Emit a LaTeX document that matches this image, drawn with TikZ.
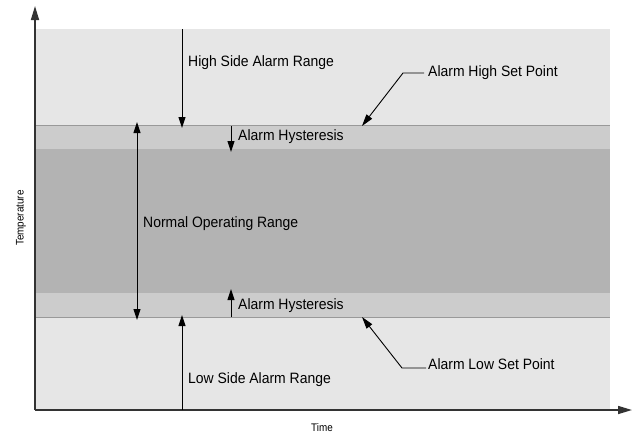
\documentclass[tikz,border=0pt]{standalone}
\usepackage{fontspec}
\setmainfont[FakeStretch=0.93]{Liberation Sans}
\newfontfamily\axfont[FakeStretch=0.9]{Liberation Sans}
\usetikzlibrary{arrows.meta}
\definecolor{bandlight}{HTML}{E6E6E6}
\definecolor{bandmid}{HTML}{CCCCCC}
\definecolor{banddark}{HTML}{B3B3B3}
\definecolor{setline}{HTML}{999999}
\definecolor{axiscol}{HTML}{333333}
\tikzset{
  lbl/.style={anchor=west, inner sep=0pt, font=\fontsize{15}{17}\selectfont},
  axlbl/.style={inner sep=0pt, font=\axfont\fontsize{11}{13}\selectfont},
  dimarrow/.style={line width=1pt, -{Triangle[length=11pt,width=7pt]}},
  dimboth/.style={line width=1pt, {Triangle[length=11pt,width=7pt]}-{Triangle[length=11pt,width=7pt]}},
  axisline/.style={line width=1.6pt, draw=axiscol, -{Triangle[length=14pt,width=8pt]}},
  leader/.style={line width=0.9pt, -{Triangle[length=12pt,width=7pt]}},
}
\begin{document}
\begin{tikzpicture}[x=1pt,y=-1pt]
\useasboundingbox (0,0) rectangle (632,437);
% bands
\fill[bandlight] (35,29) rectangle (610,125);
\fill[bandmid] (35,125) rectangle (610,149);
\fill[banddark] (35,149) rectangle (610,293);
\fill[bandmid] (35,293) rectangle (610,317);
\fill[bandlight] (35,317) rectangle (610,410);
\draw[setline, line width=0.9pt] (35,125) -- (610,125);
\draw[setline, line width=0.9pt] (35,317) -- (610,317);
% axes
\coordinate (origin) at (35,410);
\coordinate (ytip) at (35,6);
\coordinate (xtip) at (632,410);
\draw[axisline] (origin) -- (ytip);
\draw[axisline] (origin) -- (xtip);
\node[axlbl, rotate=90] (temp) at (21,218) {Temperature};
\node[axlbl] (time) at (322,428) {Time};
% high side alarm range
\coordinate (hsTop) at (182,29);
\coordinate (hsBot) at (182,128);
\draw[dimarrow] (hsTop) -- (hsBot);
\node[lbl] (hslabel) at (188,63) {High Side Alarm Range};
% low side alarm range
\coordinate (lsBot) at (182,410);
\coordinate (lsTop) at (182,315);
\draw[dimarrow] (lsBot) -- (lsTop);
\node[lbl] (lslabel) at (188,380) {Low Side Alarm Range};
% normal operating range
\coordinate (noTop) at (137,122);
\coordinate (noBot) at (137,320);
\draw[dimboth] (noTop) -- (noBot);
\node[lbl] (nolabel) at (143,224) {Normal Operating Range};
% hysteresis
\coordinate (h1a) at (231,126);
\coordinate (h1b) at (231,152);
\draw[dimarrow] (h1a) -- (h1b);
\node[lbl] (h1label) at (238,137) {Alarm Hysteresis};
\coordinate (h2a) at (231,317);
\coordinate (h2b) at (231,289);
\draw[dimarrow] (h2a) -- (h2b);
\node[lbl] (h2label) at (238,306) {Alarm Hysteresis};
% set points
\node[lbl] (hsp) at (428,73) {Alarm High Set Point};
\coordinate (hspTip) at (362,126);
\draw[leader] (hsp.west) ++(-4,0) -- ++(-21,0) -- (hspTip);
\node[lbl] (lsp) at (428,364) {Alarm Low Set Point};
\coordinate (lspTip) at (362,317);
\draw[leader] (lsp.west) ++(-2,4) -- ++(-24,0) -- (lspTip);
\end{tikzpicture}
\end{document}
